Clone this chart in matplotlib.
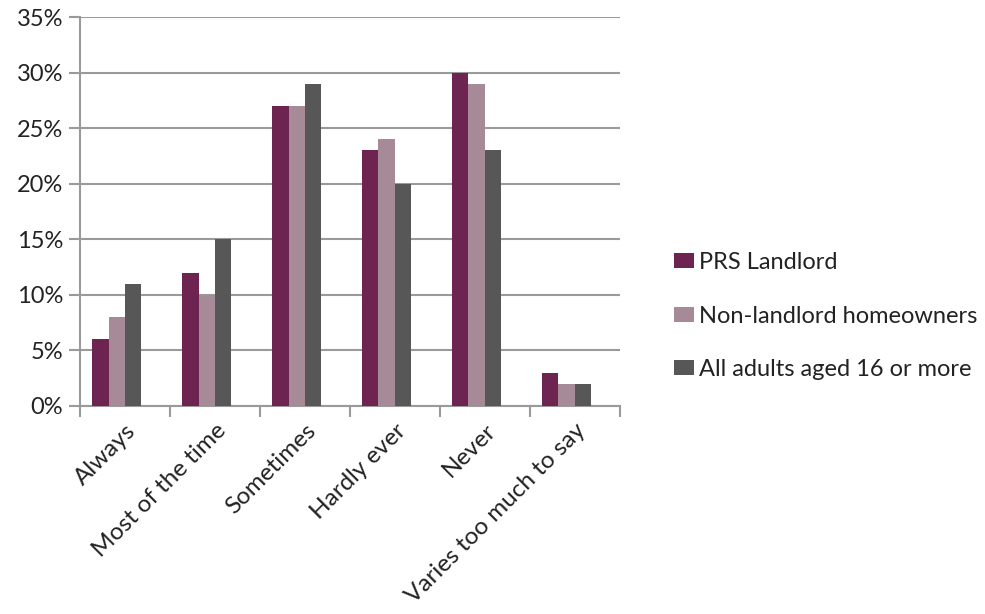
import numpy as np
from matplotlib import pyplot as plt
from matplotlib.ticker import FuncFormatter, MultipleLocator

categories = ["Always", "Most of the time", "Sometimes", "Hardly ever", "Never",
              "Varies too much to say"]
series_names = ["PRS Landlord", "Non-landlord homeowners", "All adults aged 16 or more"]
prs_landlord = [6, 12, 27, 23, 30, 3]
non_landlord = [8, 10, 27, 24, 29, 2]
all_adults = [11, 15, 29, 20, 23, 2]
colors = ["#6E2450", "#A78A97", "#575757"]

plt.rcParams['font.family'] = ['Lato', 'DejaVu Sans']

fig = plt.figure(figsize=(9.85, 6.14), dpi=100)
ax = fig.add_axes([0.0812, 0.3388, 0.5482, 0.6335])

x = np.arange(len(categories))
w = 0.183
offsets = [-1.5 * w, -0.5 * w, 0.5 * w]
for vals, name, col, off in zip([prs_landlord, non_landlord, all_adults],
                                series_names, colors, offsets):
    ax.bar(x + off, vals, width=w, color=col, label=name, zorder=3)

ax.set_xlim(-0.5, len(categories) - 0.5)
ax.set_ylim(0, 35)
ax.yaxis.set_major_locator(MultipleLocator(5))
ax.yaxis.set_major_formatter(FuncFormatter(lambda v, p: f"{v:.0f}%"))
ax.grid(axis='y', color='#9a9a9a', linewidth=1.5, zorder=0)

ax.set_xticks(x)
ax.set_xticklabels(categories, rotation=45, ha='right', va='top',
                   rotation_mode='anchor', fontsize=17.5, color='#222222')
ax.tick_params(axis='x', length=0, pad=10)
ax.set_xticks(np.arange(len(categories) + 1) - 0.5, minor=True)
ax.tick_params(axis='x', which='minor', length=8, width=1.5, color='#9a9a9a')
ax.tick_params(axis='y', length=8, width=1.5, color='#9a9a9a', labelsize=17,
               labelcolor='#222222', pad=4)

for side in ['top', 'right']:
    ax.spines[side].set_visible(False)
for side in ['left', 'bottom']:
    ax.spines[side].set_color('#9a9a9a')
    ax.spines[side].set_linewidth(1.5)

fig.legend(loc='center left', bbox_to_anchor=(0.672, 0.485), frameon=False,
           fontsize=17, handlelength=0.85, handleheight=0.6, handletextpad=0.2,
           labelspacing=1.38, labelcolor='#222222', borderpad=0.0)

plt.savefig("out.png", dpi=100)
